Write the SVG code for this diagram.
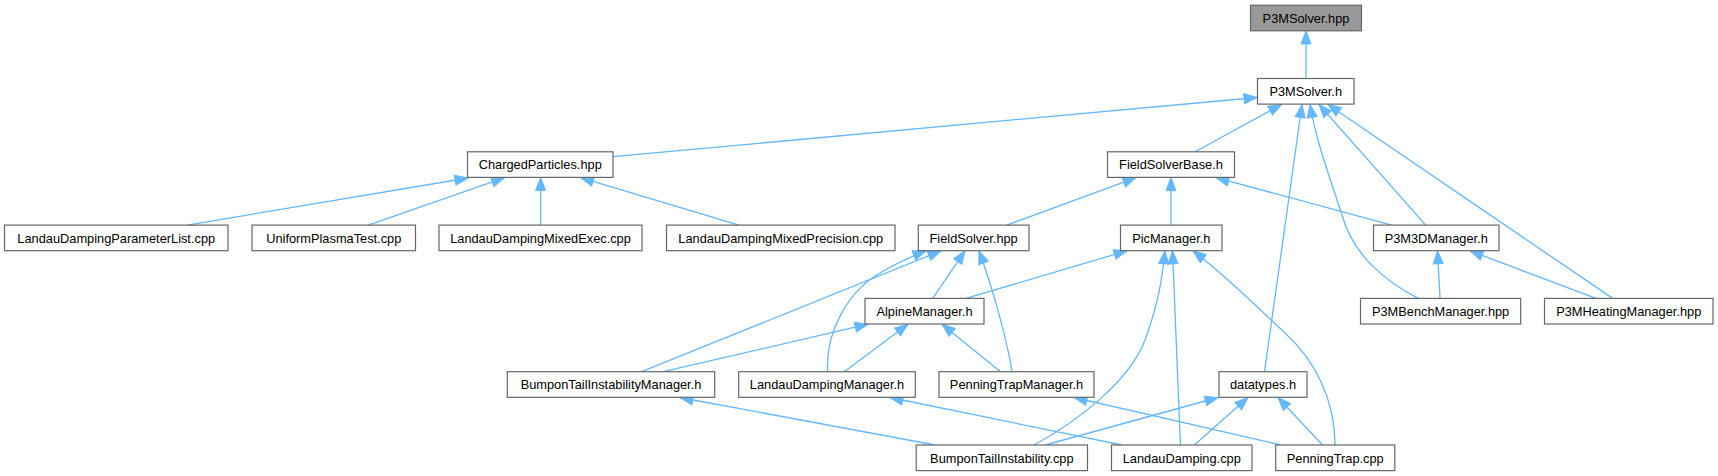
<svg xmlns="http://www.w3.org/2000/svg" width="1718" height="476" viewBox="0 0 1718 476">
<style>
.node rect{fill:#ffffff;stroke:#666666;stroke-width:1.2}
.node.root rect{fill:#999999}
.node text{font-family:"Liberation Sans",Arial,Helvetica,sans-serif;font-size:12.8px;fill:#000000;text-anchor:middle}
.edges path{fill:none;stroke:#63b8ff;stroke-width:1.3;marker-end:url(#arr)}
</style>
<defs>
<marker id="arr" markerUnits="userSpaceOnUse" viewBox="0 0 13 10" markerWidth="13" markerHeight="10" refX="13" refY="5" orient="auto" overflow="visible">
<path d="M0,0 L13,5 L0,10 z" fill="#63b8ff" stroke="#63b8ff" stroke-width="1"/>
</marker>
</defs>
<rect width="1718" height="476" fill="#ffffff"/>
<g id="connectors" class="edges">
<path d="M1306,78.5 L1306,31"/>
<path d="M613,156.7 L1257,97.5"/>
<path d="M1195,151.8 L1281.5,104.5"/>
<path d="M1264.5,371.7 L1302,104.5"/>
<path d="M1418.3,298.4 C1382,280 1352,252 1342,215 C1328,172 1316,140 1310,104.5"/>
<path d="M1425.7,225.1 L1319,104.5"/>
<path d="M1612.7,298.4 L1328,104.5"/>
<path d="M187.5,225.1 L468,178"/>
<path d="M368.3,225.1 L504.5,177.6"/>
<path d="M540.6,225.1 L540.6,177.6"/>
<path d="M739,225.1 L580.6,177.6"/>
<path d="M1006.7,225.1 L1136,177.6"/>
<path d="M1171,225.1 L1171,177.6"/>
<path d="M1391.7,225.1 L1216,177.6"/>
<path d="M932.7,298.4 L965,250.8"/>
<path d="M641.7,371.7 L941,250.8"/>
<path d="M827.7,371.7 C825,330 850,290 880,273 C895,264 910,257 926,250.8"/>
<path d="M1012,371.7 C1008,345 995,295 979,250.8"/>
<path d="M966,298.4 L1127,250.8"/>
<path d="M1034,445 C1080,420 1130,380 1145,340 C1158,305 1162,280 1165,250.8"/>
<path d="M1180.5,445 L1172.5,250.8"/>
<path d="M1335,445 C1335,400 1315,360 1285,333 C1255,305 1225,275 1193,250.8"/>
<path d="M1440,298.4 L1437.5,250.8"/>
<path d="M1596,298.4 L1470,250.8"/>
<path d="M663.3,371.7 L868,324.2"/>
<path d="M844.3,371.7 L908,324.2"/>
<path d="M1000.5,371.7 L942,324.2"/>
<path d="M935,445 L680,397.5"/>
<path d="M1122,445 L890,397.5"/>
<path d="M1281,445 L1074,397.5"/>
<path d="M1045.3,445 L1218,397.5"/>
<path d="M1194.4,445 L1248,397.5"/>
<path d="M1322.5,445 L1278,397.5"/>
</g>
<g id="node_P3MSolver_hpp" class="node root"><rect x="1250.5" y="5.2" width="111" height="25.6"/><text x="1306" y="22.8">P3MSolver.hpp</text></g>
<g id="node_P3MSolver_h" class="node"><rect x="1257.5" y="78.5" width="96.5" height="25.6"/><text x="1305.75" y="96.1">P3MSolver.h</text></g>
<g id="node_ChargedParticles_hpp" class="node"><rect x="467.5" y="151.8" width="145.5" height="25.6"/><text x="540.25" y="169.4">ChargedParticles.hpp</text></g>
<g id="node_FieldSolverBase_h" class="node"><rect x="1107.5" y="151.8" width="127" height="25.6"/><text x="1171" y="169.4">FieldSolverBase.h</text></g>
<g id="node_LandauDampingParameterList_cpp" class="node"><rect x="4.5" y="225.1" width="223.5" height="25.6"/><text x="116.25" y="242.7">LandauDampingParameterList.cpp</text></g>
<g id="node_UniformPlasmaTest_cpp" class="node"><rect x="252" y="225.1" width="163.5" height="25.6"/><text x="333.75" y="242.7">UniformPlasmaTest.cpp</text></g>
<g id="node_LandauDampingMixedExec_cpp" class="node"><rect x="439" y="225.1" width="203" height="25.6"/><text x="540.5" y="242.7">LandauDampingMixedExec.cpp</text></g>
<g id="node_LandauDampingMixedPrecision_cpp" class="node"><rect x="666.5" y="225.1" width="228.5" height="25.6"/><text x="780.75" y="242.7">LandauDampingMixedPrecision.cpp</text></g>
<g id="node_FieldSolver_hpp" class="node"><rect x="918.3" y="225.1" width="110.7" height="25.6"/><text x="973.65" y="242.7">FieldSolver.hpp</text></g>
<g id="node_PicManager_h" class="node"><rect x="1120.5" y="225.1" width="101.5" height="25.6"/><text x="1171.25" y="242.7">PicManager.h</text></g>
<g id="node_P3M3DManager_h" class="node"><rect x="1373.5" y="225.1" width="125.5" height="25.6"/><text x="1436.25" y="242.7">P3M3DManager.h</text></g>
<g id="node_AlpineManager_h" class="node"><rect x="865" y="298.4" width="119" height="25.6"/><text x="924.5" y="316">AlpineManager.h</text></g>
<g id="node_P3MBenchManager_hpp" class="node"><rect x="1360.5" y="298.4" width="160.2" height="25.6"/><text x="1440.6" y="316">P3MBenchManager.hpp</text></g>
<g id="node_P3MHeatingManager_hpp" class="node"><rect x="1544.5" y="298.4" width="168.5" height="25.6"/><text x="1628.75" y="316">P3MHeatingManager.hpp</text></g>
<g id="node_BumponTailInstabilityManager_h" class="node"><rect x="507.3" y="371.7" width="207.4" height="25.6"/><text x="611" y="389.3">BumponTailInstabilityManager.h</text></g>
<g id="node_LandauDampingManager_h" class="node"><rect x="738.7" y="371.7" width="176.6" height="25.6"/><text x="827" y="389.3">LandauDampingManager.h</text></g>
<g id="node_PenningTrapManager_h" class="node"><rect x="939" y="371.7" width="155" height="25.6"/><text x="1016.5" y="389.3">PenningTrapManager.h</text></g>
<g id="node_datatypes_h" class="node"><rect x="1219" y="371.7" width="88" height="25.6"/><text x="1263" y="389.3">datatypes.h</text></g>
<g id="node_BumponTailInstability_cpp" class="node"><rect x="916.2" y="445" width="171.3" height="25.6"/><text x="1001.85" y="462.6">BumponTailInstability.cpp</text></g>
<g id="node_LandauDamping_cpp" class="node"><rect x="1111.5" y="445" width="140.5" height="25.6"/><text x="1181.75" y="462.6">LandauDamping.cpp</text></g>
<g id="node_PenningTrap_cpp" class="node"><rect x="1275.7" y="445" width="119.1" height="25.6"/><text x="1335.25" y="462.6">PenningTrap.cpp</text></g>
</svg>
